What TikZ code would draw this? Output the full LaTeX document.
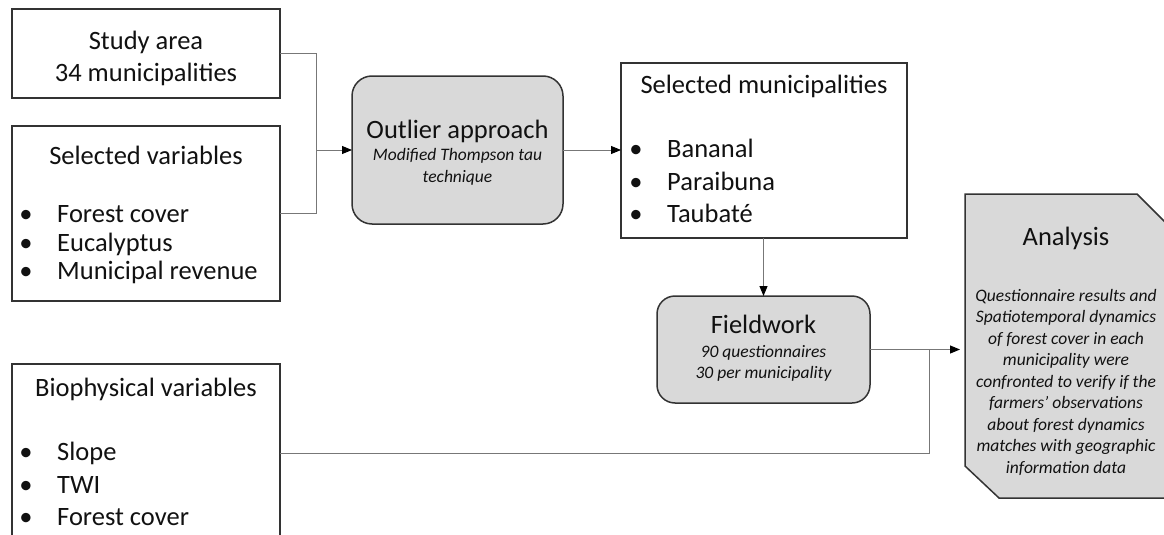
\documentclass[tikz,border=0pt]{standalone}
\usepackage{fontspec}
\setmainfont{Carlito}
\usetikzlibrary{arrows.meta,calc}
\definecolor{boxline}{HTML}{333333}
\definecolor{conline}{HTML}{777777}
\definecolor{boxfill}{HTML}{D9D9D9}
\definecolor{txt}{HTML}{111111}
\tikzset{
  box/.style={draw=boxline, line width=1.5pt, inner sep=0pt, outer sep=0pt},
  roundbox/.style={box, fill=boxfill, rounded corners=20pt},
  lbl/.style={font=\fontsize{26.5}{32}\selectfont, inner sep=0pt, anchor=base, text=txt},
  itl/.style={font=\fontsize{17.5}{21.5}\selectfont\itshape, inner sep=0pt, anchor=base, text=txt},
  item/.style={lbl, anchor=base west},
  bul/.style={lbl, anchor=base},
  conn/.style={draw=conline, line width=1pt},
  arr/.style={conn, -{Triangle[length=10pt,width=8pt,color=black]}},
}
\begin{document}
\begin{tikzpicture}[x=1pt,y=-1pt]
\useasboundingbox (0,0) rectangle (1164,535);
\clip (0,0) rectangle (1164,535);
% boxes
\node[box, minimum width=268pt, minimum height=89pt] (study) at (146,53.5) {};
\node[box, minimum width=268pt, minimum height=175pt] (selvar) at (146,213.5) {};
\node[box, minimum width=268pt, minimum height=196pt] (bio) at (146,462) {};
\node[roundbox, minimum width=211pt, minimum height=148pt] (outlier) at (457.5,150) {};
\node[box, minimum width=286pt, minimum height=175pt] (selmuni) at (764,150.5) {};
\node[roundbox, rounded corners=18pt, minimum width=213pt, minimum height=107pt] (field) at (763.5,349.5) {};
\node[inner sep=0pt, outer sep=0pt, minimum width=207pt, minimum height=304pt] (analysis) at (1068.5,346) {};
\draw[box, fill=boxfill] (analysis.north west) -- ([xshift=-35pt]analysis.north east)
  -- ([yshift=-35pt]analysis.north east) -- (analysis.south east)
  -- ([xshift=34pt]analysis.south west) -- ([yshift=32pt]analysis.south west) -- cycle;
% texts
\node[lbl] (st1) at (146,49.5) {Study area};
\node[lbl] (st2) at (146,81.5) {34 municipalities};
\node[lbl] (sv0) at (146,164) {Selected variables};
\node[bul] (svb1) at (26,222.5) {•};
\node[item] (sv1) at (57,222.5) {Forest cover};
\node[bul] (svb2) at (26,251) {•};
\node[item] (sv2) at (57,251) {Eucalyptus};
\node[bul] (svb3) at (26,279.5) {•};
\node[item] (sv3) at (57,279.5) {Municipal revenue};
\node[lbl] (bv0) at (146,396) {Biophysical variables};
\node[bul] (bvb1) at (26,460) {•};
\node[item] (bv1) at (57,460) {Slope};
\node[bul] (bvb2) at (26,493) {•};
\node[item] (bv2) at (57,493) {TWI};
\node[bul] (bvb3) at (26,525) {•};
\node[item] (bv3) at (57,525) {Forest cover};
\node[lbl] (ol1) at (457.5,138.5) {Outlier approach};
\node[itl] (ol2) at (457.5,160.5) {Modified Thompson tau};
\node[itl] (ol3) at (457.5,182) {technique};
\node[lbl] (sm0) at (764,93) {Selected municipalities};
\node[bul] (smb1) at (636,157) {•};
\node[item] (sm1) at (667,157) {Bananal};
\node[bul] (smb2) at (636,190) {•};
\node[item] (sm2) at (667,190) {Paraibuna};
\node[bul] (smb3) at (636,222) {•};
\node[item] (sm3) at (667,222) {Taubaté};
\node[lbl] (fw1) at (763.5,333.5) {Fieldwork};
\node[itl] (fw2) at (763.5,357) {90 questionnaires};
\node[itl] (fw3) at (763.5,378.5) {30 per municipality};
\node[lbl] (an0) at (1066,245) {Analysis};
\foreach \t [count=\i] in {Questionnaire results and,Spatiotemporal dynamics,of forest cover in each,municipality were,confronted to verify if the,farmers’ observations,about forest dynamics,matches with geographic,information data}
  \node[itl] (an\i) at (1066,{279.5+21.5*\i}) {\t};
% connectors
\coordinate (jl) at (316,150);
\coordinate (jr) at (929,349.5);
\coordinate (jb) at (929,453);
\draw[conn] (study.east) -- (study.east -| jl) -- (selvar.east -| jl) -- (selvar.east);
\draw[arr] (jl) -- (outlier.west);
\draw[arr] (outlier.east) -- (outlier.east -| selmuni.west);
\draw[arr] (selmuni.south -| field.north) -- (field.north);
\draw[arr, shorten >=5pt] (field.east) -- (field.east -| analysis.west);
\draw[conn] (bio.north east |- jb) -- (jb) -- (jr);
\end{tikzpicture}
\end{document}
